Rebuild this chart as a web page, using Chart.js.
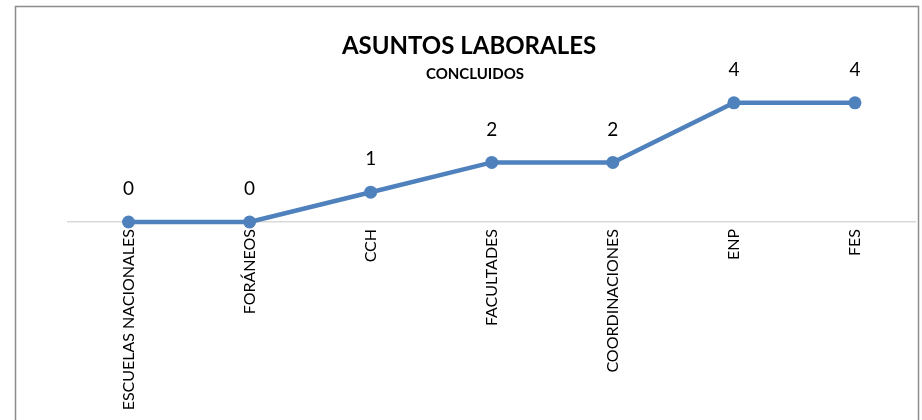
<!DOCTYPE html>
<html>
<head>
<meta charset="utf-8">
<script src="https://cdn.jsdelivr.net/npm/chart.js@4/dist/chart.umd.min.js"></script>
<style>
  html, body { margin: 0; padding: 0; background: #fff; }
  #wrap { width: 922px; height: 420px; }
</style>
</head>
<body>
<div id="wrap"><canvas id="chart-asuntos" width="922" height="420"></canvas></div>
<script>
var categorias = ['ESCUELAS NACIONALES', 'FORÁNEOS', 'CCH', 'FACULTADES', 'COORDINACIONES', 'ENP', 'FES'];
var concluidos = [0, 0, 1, 2, 2, 4, 4];
var titulo = 'ASUNTOS LABORALES';
var subtitulo = 'CONCLUIDOS';

var azul = '#4F81BD';
var fuente = "Lato, 'Open Sans', sans-serif";

Chart.defaults.font.family = fuente;
Chart.defaults.color = '#000';

// marco, titulos y etiquetas de datos
var extras = {
    id: 'extras',
    beforeDraw: function (chart) {
        var c = chart.ctx;
        c.save();
        c.fillStyle = '#fff';
        c.fillRect(0, 0, chart.width, chart.height);
        c.strokeStyle = '#8c8c8c';
        c.lineWidth = 1.5;
        c.strokeRect(15.5, 6.5, 903, 440);
        c.restore();
    },
    afterDatasetsDraw: function (chart) {
        var c = chart.ctx;
        c.save();
        c.fillStyle = '#000';
        c.textAlign = 'center';
        c.textBaseline = 'middle';
        c.font = 'bold 24px ' + fuente;
        c.fillText(titulo, 469, 46);
        c.font = 'bold 15px ' + fuente;
        c.fillText(subtitulo, 475, 74);
        c.font = '19px ' + fuente;
        var meta = chart.getDatasetMeta(0);
        meta.data.forEach(function (pt, i) {
            c.fillText(String(concluidos[i]), pt.x, pt.y - 33);
        });
        c.restore();
    }
};

var ctx = document.getElementById('chart-asuntos').getContext('2d');

var grafica = new Chart(ctx, {
    type: 'line',
    data: {
        labels: categorias,
        datasets: [{
            label: subtitulo,
            data: concluidos,
            borderColor: azul,
            backgroundColor: azul,
            borderWidth: 4.5,
            pointRadius: 6.5,
            pointHoverRadius: 6.5,
            pointBackgroundColor: azul,
            pointBorderWidth: 0,
            tension: 0,
            clip: false
        }]
    },
    options: {
        responsive: false,
        animation: false,
        events: [],
        plugins: {
            legend: { display: false },
            title: { display: false },
            tooltip: { enabled: false }
        },
        layout: {
            padding: { top: 73, left: 68, right: 4, bottom: 0 }
        },
        scales: {
            x: {
                offset: true,
                grid: { display: false, drawTicks: false },
                border: { display: true, color: '#d9d9d9', width: 1.5 },
                ticks: {
                    minRotation: 90,
                    maxRotation: 90,
                    autoSkip: false,
                    padding: 7,
                    font: { size: 16 },
                    color: '#000'
                },
                afterFit: function (scale) {
                    scale.height = 198;
                }
            },
            y: {
                display: false,
                min: 0,
                max: 5
            }
        }
    },
    plugins: [extras]
});
</script>
</body>
</html>
